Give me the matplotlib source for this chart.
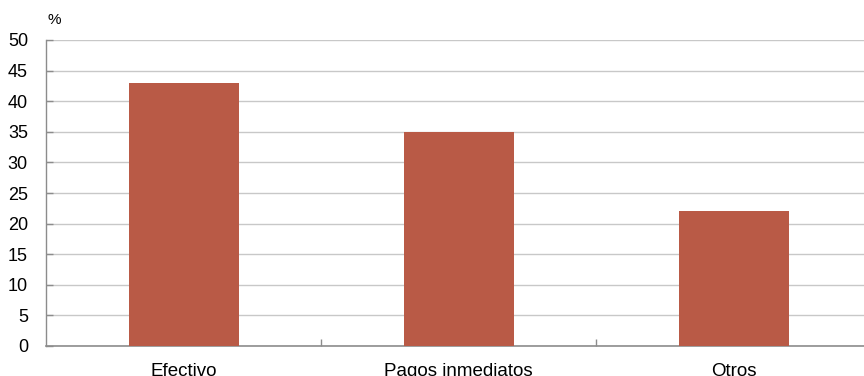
import matplotlib.pyplot as plt
import numpy as np

plt.rcParams['font.family'] = ['Liberation Sans', 'DejaVu Sans']

categories = ['Efectivo', 'Pagos inmediatos', 'Otros']
values = [43, 35, 22]
y_ticks = [0, 5, 10, 15, 20, 25, 30, 35, 40, 45, 50]

BAR = '#B95A46'
GRID = '#C8C8C8'
AXIS = '#8C8C8C'

fig = plt.figure(figsize=(8.64, 3.76), dpi=100)
ax = fig.add_axes([46 / 864, 30 / 376, 818 / 864, 306 / 376])

x = np.arange(len(categories))
ax.bar(x, values, width=0.4, color=BAR, zorder=3)

ax.set_ylim(0, 50)
ax.set_yticks(y_ticks)
ax.set_xlim(-0.5, -0.5 + 818 / 275)

# category labels, boundary ticks
ax.set_xticks(x)
ax.set_xticklabels(categories, fontsize=13.5)
ax.set_xticks([0.5, 1.5], minor=True)
ax.tick_params(axis='x', which='major', length=0, pad=12)
ax.tick_params(axis='x', which='minor', direction='in', length=5, color=AXIS, width=1)
ax.tick_params(axis='y', direction='in', length=5, color=AXIS, width=1,
               labelsize=13, pad=13)

ax.yaxis.grid(True, color=GRID, linewidth=1, zorder=0)
for s in ['top', 'right']:
    ax.spines[s].set_visible(False)
ax.spines['left'].set_color(AXIS)
ax.spines['bottom'].set_color(AXIS)
ax.spines['left'].set_linewidth(1)
ax.spines['bottom'].set_linewidth(1.2)

fig.text(47 / 864, 1 - 20 / 376, '%', fontsize=11, va='center', ha='left')

fig.savefig('out.png', dpi=100, facecolor='white')
